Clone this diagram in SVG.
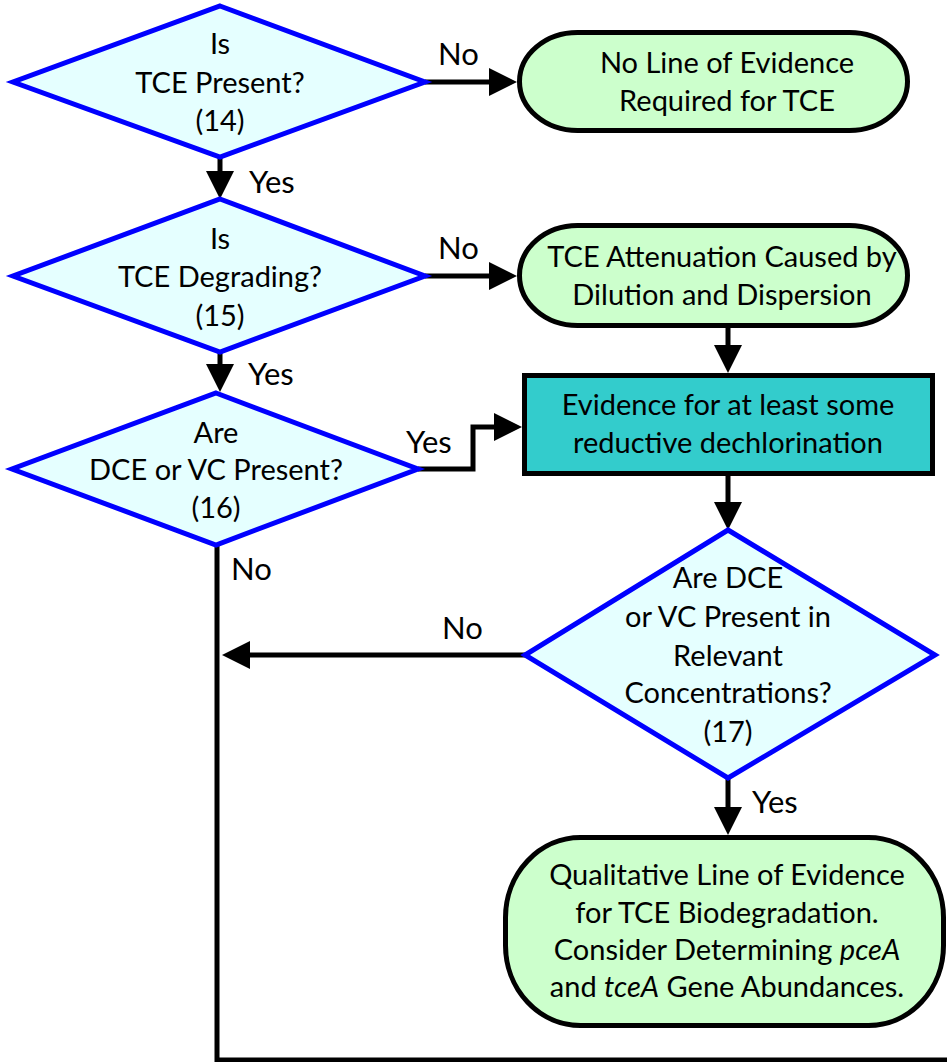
<svg xmlns="http://www.w3.org/2000/svg" width="947" height="1062" viewBox="0 0 947 1062">
  <style>
    text { font-family: Lato, "Open Sans", "Liberation Sans", sans-serif; font-size: 29px; fill: #000; }
    .c { text-anchor: middle; }
    .lbl { font-size: 31px; }
    .dia { fill: #e5ffff; stroke: #0000ff; stroke-width: 5; stroke-linejoin: miter; }
    .term { fill: #ccffcc; stroke: #000; stroke-width: 5; }
    .proc { fill: #33cccc; stroke: #000; stroke-width: 5; }
    .link { fill: none; stroke: #000; stroke-width: 5; stroke-linejoin: miter; }
  </style>
  <defs>
    <marker id="arrow" markerUnits="userSpaceOnUse" markerWidth="30" markerHeight="30" refX="0" refY="15" orient="auto" viewBox="0 0 30 30">
      <path d="M0,1 L28,15 L0,29 Z" fill="#000"/>
    </marker>
  </defs>

  <!-- connectors -->
  <g id="connectors">
    <path class="link" d="M425,82 H489" marker-end="url(#arrow)"/>
    <path class="link" d="M220,157 V171" marker-end="url(#arrow)"/>
    <path class="link" d="M425,276 H489" marker-end="url(#arrow)"/>
    <path class="link" d="M220,352 V364" marker-end="url(#arrow)"/>
    <path class="link" d="M728,326 V345" marker-end="url(#arrow)"/>
    <path class="link" d="M418,469 H473 V427 H494" marker-end="url(#arrow)"/>
    <path class="link" d="M728,475 V502" marker-end="url(#arrow)"/>
    <path class="link" d="M525,655 H250" marker-end="url(#arrow)"/>
    <path class="link" d="M728,778 V807" marker-end="url(#arrow)"/>
    <path class="link" d="M217,545 V1060 H950"/>
    <text class="lbl" x="438" y="65">No</text>
    <text class="lbl" x="249" y="193">Yes</text>
    <text class="lbl" x="438" y="259">No</text>
    <text class="lbl" x="248" y="385">Yes</text>
    <text class="lbl" x="406" y="453">Yes</text>
    <text class="lbl" x="231" y="580">No</text>
    <text class="lbl" x="442" y="639">No</text>
    <text class="lbl" x="752" y="813">Yes</text>
  </g>

  <g id="q14">
    <polygon class="dia" points="220,6 425,82 220,157 13,82"/>
    <text class="c" x="220" y="54">Is</text>
    <text class="c" x="220" y="93">TCE Present?</text>
    <text class="c" x="220" y="131">(14)</text>
  </g>

  <g id="no-evidence">
    <rect class="term" x="519.5" y="32.5" width="388" height="98" rx="58" ry="49"/>
    <text class="c" x="727" y="73">No Line of Evidence</text>
    <text class="c" x="727" y="111">Required for TCE</text>
  </g>

  <g id="q15">
    <polygon class="dia" points="220,199 425,276 220,352 13,276"/>
    <text class="c" x="220" y="249">Is</text>
    <text class="c" x="220" y="287">TCE Degrading?</text>
    <text class="c" x="220" y="326">(15)</text>
  </g>

  <g id="dilution">
    <rect class="term" x="519.5" y="225.5" width="388" height="100" rx="58" ry="50"/>
    <text class="c" x="722" y="267">TCE Attenuation Caused by</text>
    <text class="c" x="722" y="305">Dilution and Dispersion</text>
  </g>

  <g id="q16">
    <polygon class="dia" points="216,393 418,469 216,545 12,469"/>
    <text class="c" x="216" y="443">Are</text>
    <text class="c" x="216" y="480">DCE or VC Present?</text>
    <text class="c" x="216" y="518">(16)</text>
  </g>

  <g id="dechlorination">
    <rect class="proc" x="524.5" y="375.5" width="408" height="98"/>
    <text class="c" x="728" y="415">Evidence for at least some</text>
    <text class="c" x="728" y="453">reductive dechlorination</text>
  </g>

  <g id="q17">
    <polygon class="dia" points="728,530 935,655 728,778 525,655"/>
    <text class="c" x="728" y="588">Are DCE</text>
    <text class="c" x="728" y="627">or VC Present in</text>
    <text class="c" x="728" y="666">Relevant</text>
    <text class="c" x="728" y="703">Concentrations?</text>
    <text class="c" x="728" y="742">(17)</text>
  </g>

  <g id="qualitative">
    <rect class="term" x="505.5" y="837.5" width="438" height="188" rx="75" ry="80"/>
    <text class="c" x="727" y="885">Qualitative Line of Evidence</text>
    <text class="c" x="727" y="923">for TCE Biodegradation.</text>
    <text class="c" x="727" y="960">Consider Determining <tspan font-style="italic">pceA</tspan></text>
    <text class="c" x="727" y="997">and <tspan font-style="italic">tceA</tspan> Gene Abundances.</text>
  </g>
</svg>
